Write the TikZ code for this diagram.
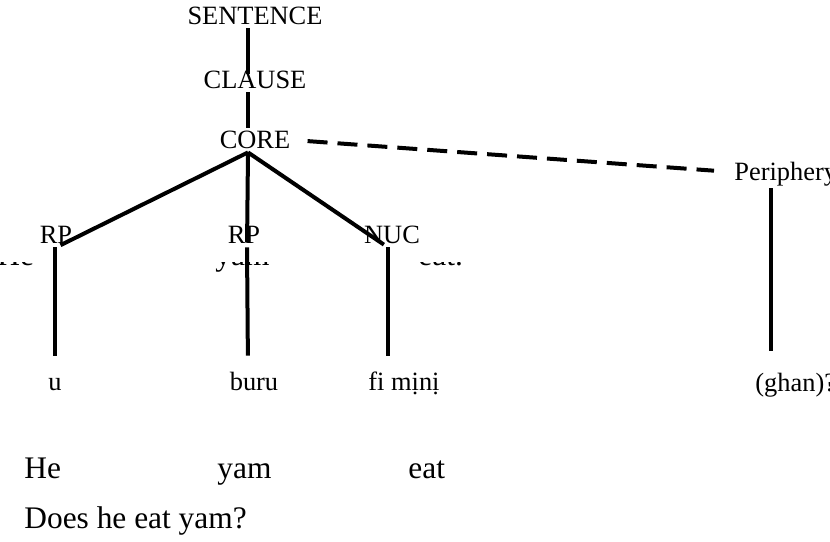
\documentclass[tikz,border=0pt]{standalone}
\usepackage{fontspec}
\setmainfont{Liberation Serif}
\begin{document}
\begin{tikzpicture}[x=0.5pt,y=-0.5pt,
    lbl/.style={font=\fontsize{13.2}{15}\selectfont,inner sep=1pt,text height=9pt,text depth=1pt,anchor=base},
    gloss/.style={font=\fontsize{15.7}{18}\selectfont,inner sep=0pt,anchor=base west},
    edge/.style={line width=2pt},
    dashedge/.style={line width=2pt,dash pattern=on 10pt off 5pt}]
\useasboundingbox (0,0) rectangle (830,541);
% tree labels
\node[lbl] (sentence) at (255,24) {SENTENCE};
\node[lbl] (clause) at (255,88) {CLAUSE};
\node[lbl] (core) at (255,148) {CORE};
\node[lbl] (rp1) at (56,243) {RP};
\node[lbl] (rp2) at (244,243) {RP};
\node[lbl] (nuc) at (392,243) {NUC};
\node[lbl,anchor=base west] (periph) at (732,180) {Periphery};
\node[lbl] (u) at (55,390) {u};
\node[lbl] (buru) at (254,390) {buru};
\node[lbl] (fimini) at (404,390) {fi mịnị};
\node[lbl,anchor=base west] (ghan) at (753,391) {(ghan)?};
% branches
\draw[edge,shorten >=-3pt] ([xshift=-3.5pt]sentence.south) -- ([xshift=-3.5pt]clause.north);
\draw[edge] ([xshift=-3.5pt]clause.south) -- ([xshift=-3.5pt]core.north);
\draw[edge,shorten >=2.5pt] ([xshift=-3.5pt]core.south) -- (rp1.south);
\draw[edge,shorten >=2.5pt] ([xshift=-3.5pt]core.south) -- ([xshift=1.5pt]rp2.south);
\draw[edge,shorten >=2.5pt] ([xshift=-3.5pt]core.south) -- ([xshift=-2pt]nuc.south);
\draw[dashedge,shorten <=7.5pt,shorten >=9pt] (core.east) -- (periph.west);
\draw[edge,shorten >=7pt] ([xshift=-0.5pt]rp1.south) -- (u.north);
\draw[edge,shorten >=7pt] ([xshift=1.5pt]rp2.south) -- ([xshift=-3pt]buru.north);
\draw[edge,shorten >=7pt] ([xshift=-2pt]nuc.south) -- ([xshift=-8pt]fimini.north);
\draw[edge,shorten <=2pt,shorten >=10pt] ([xshift=19.5pt]periph.south west) -- ([xshift=9pt]ghan.north west);
% glosses cut off below the labels
\begin{scope}
\clip (0,262) rectangle (830,280);
\node[gloss] (frhe) at (-3,265) {He};
\node[gloss] (fryam) at (215,265) {yam};
\node[gloss] (freat) at (418,265) {eat.};
\end{scope}
% gloss and translation
\node[gloss] (he) at (24,478) {He};
\node[gloss] (yam) at (217,478) {yam};
\node[gloss] (eat) at (408,478) {eat};
\node[gloss] (trans) at (24,528) {Does he eat yam?};
\end{tikzpicture}
\end{document}
